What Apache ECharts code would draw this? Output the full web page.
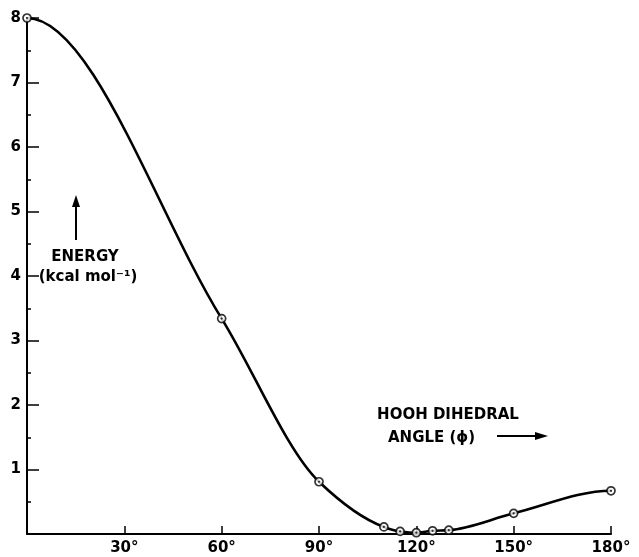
<!DOCTYPE html>
<html>
<head>
<meta charset="utf-8">
<script src="https://cdn.jsdelivr.net/npm/echarts@6/dist/echarts.min.js"></script>
<style>
html,body{margin:0;padding:0;background:#fff;}
#chart{width:639px;height:557px;}
</style>
</head>
<body>
<div id="chart"></div>
<script>
// HOOH dihedral angle (degrees)
const angles = [0, 60, 90, 110, 115, 120, 125, 130, 150, 180];
// Energy (kcal/mol)
const energies = [8.0, 3.34, 0.81, 0.11, 0.04, 0.02, 0.05, 0.06, 0.32, 0.67];
const xTicks = [30, 60, 90, 120, 150, 180];
const yTicks = [1, 2, 3, 4, 5, 6, 7, 8];

const FONT = '"DejaVu Sans", sans-serif';
const points = angles.map((a, i) => [a, energies[i]]);

// shape-preserving (PCHIP) tangents for the smooth curve through the measured points,
// flat at 0° and 180° (symmetry of the torsion potential)
const n = angles.length;
const secants = [];
for (let i = 0; i < n - 1; i++) {
  secants.push((energies[i + 1] - energies[i]) / (angles[i + 1] - angles[i]));
}
const slopes = angles.map((a, i) => {
  if (i === 0 || i === n - 1) return 0;
  const d0 = secants[i - 1], d1 = secants[i];
  if (d0 * d1 <= 0) return 0;
  const h0 = angles[i] - angles[i - 1], h1 = angles[i + 1] - angles[i];
  const w1 = 2 * h1 + h0, w2 = h1 + 2 * h0;
  return (w1 + w2) / (w1 / d0 + w2 / d1);
});

const chart = echarts.init(document.getElementById('chart'), null, {renderer: 'canvas'});

chart.setOption({
  backgroundColor: '#ffffff',
  animation: false,
  grid: {left: 27, right: 28, top: 18, bottom: 23, containLabel: false, outerBoundsMode: 'none'},
  xAxis: {
    type: 'value', min: 0, max: 180, interval: 30,
    axisLine: {show: true, onZero: false, lineStyle: {color: '#000', width: 2}},
    axisTick: {show: true, inside: true, length: 8, lineStyle: {color: '#000', width: 1.5},
      customValues: xTicks},
    axisLabel: {show: true, margin: 7, color: '#000', fontSize: 15, fontWeight: 'bold', fontFamily: FONT,
      customValues: xTicks, formatter: v => v + '°'},
    splitLine: {show: false}
  },
  yAxis: {
    type: 'value', min: 0, max: 8, interval: 1,
    axisLine: {show: true, onZero: false, lineStyle: {color: '#000', width: 2}},
    axisTick: {show: true, inside: true, length: 12, lineStyle: {color: '#000', width: 1.5},
      customValues: yTicks},
    minorTick: {show: true, splitNumber: 2, length: 4, lineStyle: {color: '#000', width: 1.5}},
    axisLabel: {show: true, margin: 6, color: '#000', fontSize: 15, fontWeight: 'bold', fontFamily: FONT,
      customValues: yTicks},
    splitLine: {show: false}
  },
  series: [
    {
      type: 'custom',
      coordinateSystem: 'cartesian2d',
      data: [[0, 0]],
      silent: true,
      z: 2,
      renderItem: function (params, api) {
        const p0 = api.coord([angles[0], energies[0]]);
        let d = 'M' + p0[0] + ' ' + p0[1];
        for (let i = 0; i < n - 1; i++) {
          const h = angles[i + 1] - angles[i];
          const c1 = api.coord([angles[i] + h / 3, energies[i] + slopes[i] * h / 3]);
          const c2 = api.coord([angles[i + 1] - h / 3, energies[i + 1] - slopes[i + 1] * h / 3]);
          const p = api.coord([angles[i + 1], energies[i + 1]]);
          d += ' C' + c1[0] + ' ' + c1[1] + ' ' + c2[0] + ' ' + c2[1] + ' ' + p[0] + ' ' + p[1];
        }
        return {
          type: 'path',
          shape: {pathData: d},
          style: {fill: 'none', stroke: '#000', lineWidth: 2.6, lineJoin: 'round', lineCap: 'round'}
        };
      }
    },
    {
      type: 'scatter',
      data: points,
      symbol: 'circle',
      symbolSize: 8,
      z: 3,
      itemStyle: {color: '#fff', borderColor: '#000', borderWidth: 1.7}
    },
    {
      type: 'scatter',
      data: points,
      symbol: 'circle',
      symbolSize: 2.2,
      z: 4,
      itemStyle: {color: '#000'}
    }
  ],
  graphic: [
    {type: 'text', x: 85, y: 257, style: {text: 'ENERGY', fontSize: 15, fontWeight: 'bold', fontFamily: FONT, fill: '#000', align: 'center', verticalAlign: 'middle'}},
    {type: 'text', x: 88, y: 277, style: {text: '(kcal mol⁻¹)', fontSize: 15, fontWeight: 'bold', fontFamily: FONT, fill: '#000', align: 'center', verticalAlign: 'middle'}},
    {type: 'line', shape: {x1: 76, y1: 240, x2: 76, y2: 204}, style: {stroke: '#000', lineWidth: 2}},
    {type: 'polygon', shape: {points: [[72, 207], [76, 195], [80, 207]]}, style: {fill: '#000'}},
    {type: 'text', x: 448, y: 415, style: {text: 'HOOH DIHEDRAL', fontSize: 15, fontWeight: 'bold', fontFamily: FONT, fill: '#000', align: 'center', verticalAlign: 'middle'}},
    {type: 'text', x: 388, y: 438, style: {text: 'ANGLE (ϕ)', fontSize: 15, fontWeight: 'bold', fontFamily: FONT, fill: '#000', align: 'left', verticalAlign: 'middle'}},
    {type: 'line', shape: {x1: 497, y1: 436, x2: 538, y2: 436}, style: {stroke: '#000', lineWidth: 2}},
    {type: 'polygon', shape: {points: [[535, 432], [548, 436], [535, 440]]}, style: {fill: '#000'}}
  ]
});
</script>
</body>
</html>
